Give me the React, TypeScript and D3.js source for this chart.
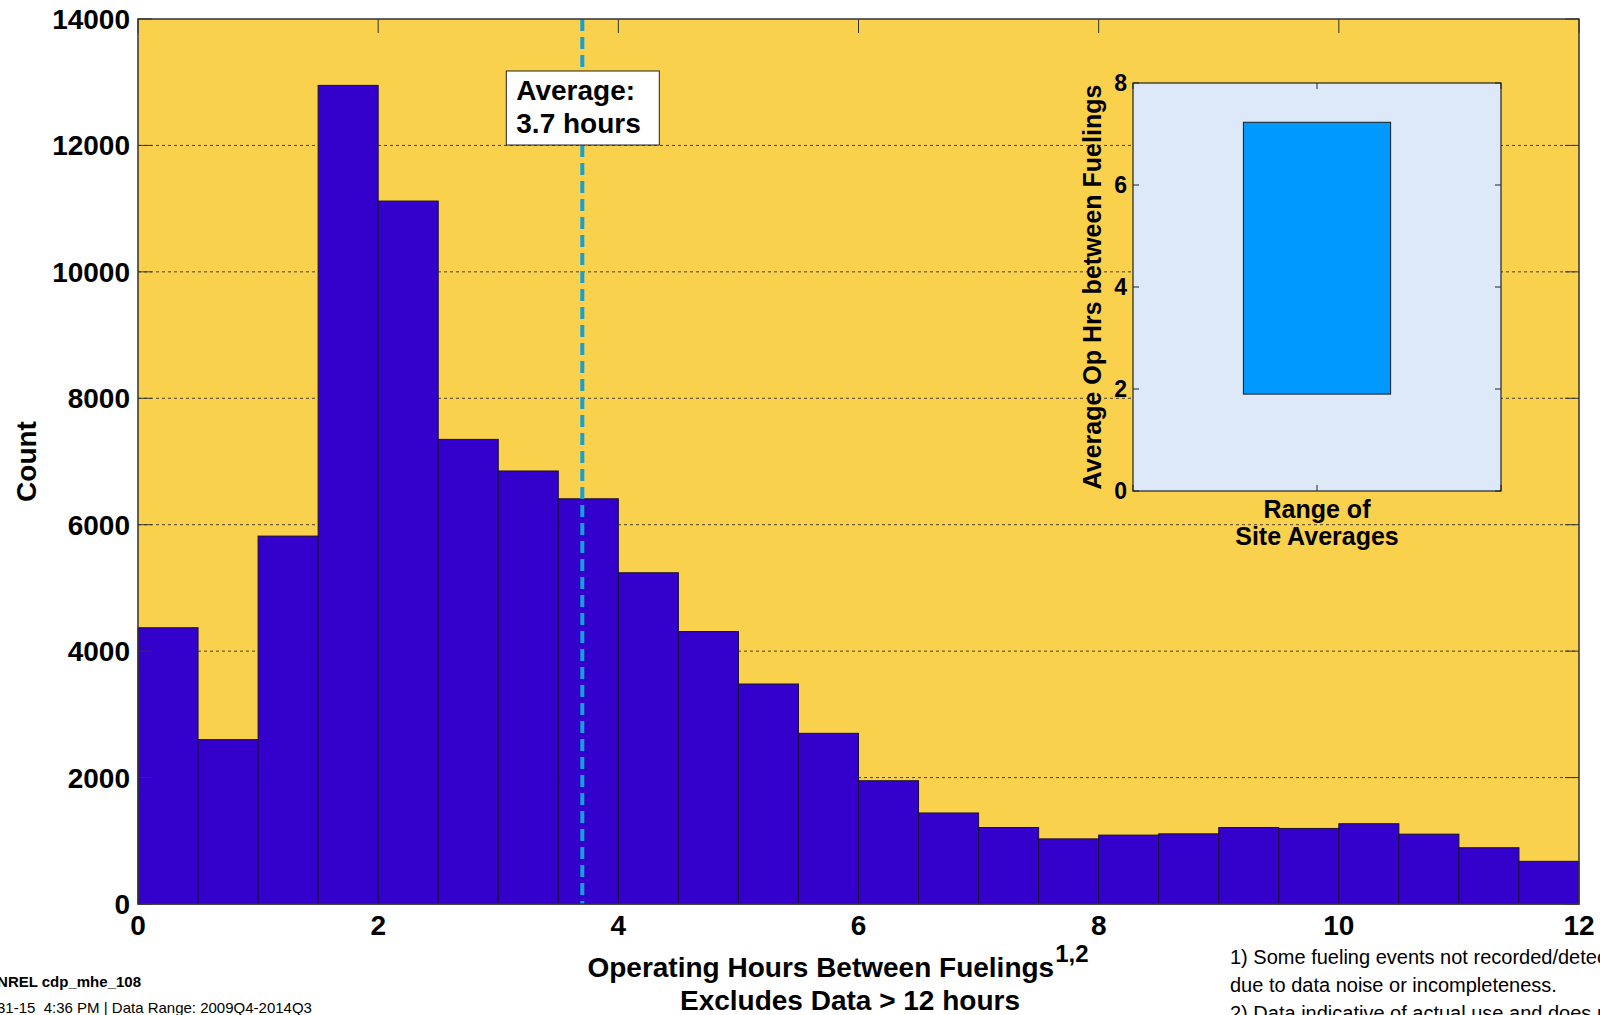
import React from 'react';
import * as d3 from 'd3';

// histogram of operating hours between fuelings (0.5 h bins)
const binStarts = [0, 0.5, 1, 1.5, 2, 2.5, 3, 3.5, 4, 4.5, 5, 5.5, 6, 6.5, 7, 7.5, 8, 8.5, 9, 9.5, 10, 10.5, 11, 11.5];
const binWidth = 0.5;
const counts = [
  4370, 2600, 5820, 12950, 11120, 7350, 6850, 6410, 5240, 4310, 3480, 2700,
  1950, 1440, 1210, 1030, 1090, 1110, 1210, 1195, 1270, 1105, 890, 675,
];
const averageHours = 3.7;
const xTicks = [0, 2, 4, 6, 8, 10, 12];
const yTicks = [0, 2000, 4000, 6000, 8000, 10000, 12000, 14000];

// inset: range of site averages
const siteRange = [1.9, 7.23];
const insetYTicks = [0, 2, 4, 6, 8];

const FONT = '"Liberation Sans", Arial, Helvetica, sans-serif';

export default function App() {
  const width = 1600;
  const height = 1015;
  const margin = { top: 19, right: 21, bottom: 111, left: 138 };
  const plotW = width - margin.left - margin.right;
  const plotH = height - margin.top - margin.bottom;

  const x = d3.scaleLinear().domain([0, 12]).range([margin.left, margin.left + plotW]);
  const y = d3.scaleLinear().domain([0, 14000]).range([margin.top + plotH, margin.top]);

  // inset axes
  const inset = { left: 1133, right: 1501, top: 83, bottom: 491 };
  const ix = d3.scaleLinear().domain([0, 2]).range([inset.left, inset.right]);
  const iy = d3.scaleLinear().domain([0, 8]).range([inset.bottom, inset.top]);

  const avgX = x(averageHours);
  const tickLen = 14;

  return (
    <svg
      width={width}
      height={height}
      style={{ position: 'absolute', left: 0, top: 0, background: '#fff' }}
      fontFamily={FONT}
    >
      {/* plot background */}
      <rect x={margin.left} y={margin.top} width={plotW} height={plotH} fill="#f9d14c" />

      {/* dotted grid */}
      {yTicks.slice(1, -1).map((t) => (
        <line
          key={'g' + t}
          x1={margin.left}
          x2={margin.left + plotW}
          y1={y(t)}
          y2={y(t)}
          stroke="#4a4030"
          strokeWidth={1}
          strokeDasharray="3,3"
        />
      ))}

      {/* bars */}
      {counts.map((c, i) => (
        <rect
          key={'b' + i}
          x={x(binStarts[i])}
          y={y(c)}
          width={x(binStarts[i] + binWidth) - x(binStarts[i])}
          height={y(0) - y(c)}
          fill="#3300cc"
          stroke="#1a1030"
          strokeWidth={1}
        />
      ))}

      {/* average line */}
      <line
        x1={avgX}
        x2={avgX}
        y1={margin.top}
        y2={margin.top + plotH}
        stroke="#14a0d8"
        strokeWidth={4}
        strokeDasharray="12,6"
      />

      {/* axis ticks (inward, left & right, top) */}
      {yTicks.map((t) => (
        <g key={'yt' + t}>
          <line x1={margin.left} x2={margin.left + tickLen} y1={y(t)} y2={y(t)} stroke="#333" />
          <line x1={margin.left + plotW - tickLen} x2={margin.left + plotW} y1={y(t)} y2={y(t)} stroke="#333" />
        </g>
      ))}
      {xTicks.map((t) => (
        <line key={'xt' + t} x1={x(t)} x2={x(t)} y1={margin.top} y2={margin.top + tickLen} stroke="#333" />
      ))}

      {/* plot frame */}
      <rect
        x={margin.left}
        y={margin.top}
        width={plotW}
        height={plotH}
        fill="none"
        stroke="#333"
        strokeWidth={1.5}
      />

      {/* y tick labels */}
      {yTicks.map((t) => (
        <text
          key={'yl' + t}
          x={130}
          y={y(t) + 10}
          textAnchor="end"
          fontSize={28}
          fontWeight="bold"
        >
          {t}
        </text>
      ))}
      {/* x tick labels */}
      {xTicks.map((t) => (
        <text
          key={'xl' + t}
          x={x(t)}
          y={935}
          textAnchor="middle"
          fontSize={28}
          fontWeight="bold"
        >
          {t}
        </text>
      ))}

      {/* y axis label */}
      <text
        transform={`translate(36, ${margin.top + plotH / 2}) rotate(-90)`}
        textAnchor="middle"
        fontSize={28}
        fontWeight="bold"
      >
        Count
      </text>

      {/* x axis label */}
      <text x={838} y={977} textAnchor="middle" fontSize={28} fontWeight="bold">
        Operating Hours Between Fuelings
        <tspan fontSize={24} dx={1} dy={-15}>1,2</tspan>
      </text>
      <text x={850} y={1010} textAnchor="middle" fontSize={28} fontWeight="bold">
        Excludes Data &gt; 12 hours
      </text>

      {/* average annotation */}
      <rect x={avgX - 76} y={71} width={153} height={74} fill="#fff" stroke="#222" strokeWidth={1} />
      <text x={avgX - 66} y={100} fontSize={28} fontWeight="bold">
        Average:
      </text>
      <text x={avgX - 66} y={133} fontSize={28} fontWeight="bold">
        3.7 hours
      </text>

      {/* inset */}
      <rect
        x={inset.left}
        y={inset.top}
        width={inset.right - inset.left}
        height={inset.bottom - inset.top}
        fill="#dde9f9"
      />
      <rect
        x={ix(0.6)}
        y={iy(siteRange[1])}
        width={ix(1.4) - ix(0.6)}
        height={iy(siteRange[0]) - iy(siteRange[1])}
        fill="#0099ff"
        stroke="#1a1a1a"
        strokeWidth={1}
      />
      {insetYTicks.map((t) => (
        <g key={'it' + t}>
          <line x1={inset.left} x2={inset.left + 6} y1={iy(t)} y2={iy(t)} stroke="#222" />
          <line x1={inset.right - 6} x2={inset.right} y1={iy(t)} y2={iy(t)} stroke="#222" />
          <text
            x={1127}
            y={iy(t) + 8}
            textAnchor="end"
            fontSize={23}
            fontWeight="bold"
          >
            {t}
          </text>
        </g>
      ))}
      {[0, 1, 2].map((t) => (
        <g key={'ixt' + t}>
          <line x1={ix(t)} x2={ix(t)} y1={inset.bottom} y2={inset.bottom - 6} stroke="#222" />
          <line x1={ix(t)} x2={ix(t)} y1={inset.top} y2={inset.top + 6} stroke="#222" />
        </g>
      ))}
      <rect
        x={inset.left}
        y={inset.top}
        width={inset.right - inset.left}
        height={inset.bottom - inset.top}
        fill="none"
        stroke="#222"
        strokeWidth={1.2}
      />
      <text
        transform={`translate(1101, ${(inset.top + inset.bottom) / 2}) rotate(-90)`}
        textAnchor="middle"
        fontSize={25}
        fontWeight="bold"
      >
        Average Op Hrs between Fuelings
      </text>
      <text x={ix(1)} y={518} textAnchor="middle" fontSize={25} fontWeight="bold">
        Range of
      </text>
      <text x={ix(1)} y={545} textAnchor="middle" fontSize={25} fontWeight="bold">
        Site Averages
      </text>

      {/* footnotes */}
      <text x={141} y={987} textAnchor="end" fontSize={15} fontWeight="bold">
        NREL cdp_mhe_108
      </text>
      <text x={-3} y={1013} fontSize={15} xmlSpace="preserve">
        {'31-15  4:36 PM | Data Range: 2009Q4-2014Q3'}
      </text>
      <text x={1230} y={964} fontSize={20}>
        1) Some fueling events not recorded/detected
      </text>
      <text x={1230} y={992} fontSize={20}>
        due to data noise or incompleteness.
      </text>
      <text x={1230} y={1020} fontSize={20}>
        2) Data indicative of actual use and does not
      </text>
    </svg>
  );
}
